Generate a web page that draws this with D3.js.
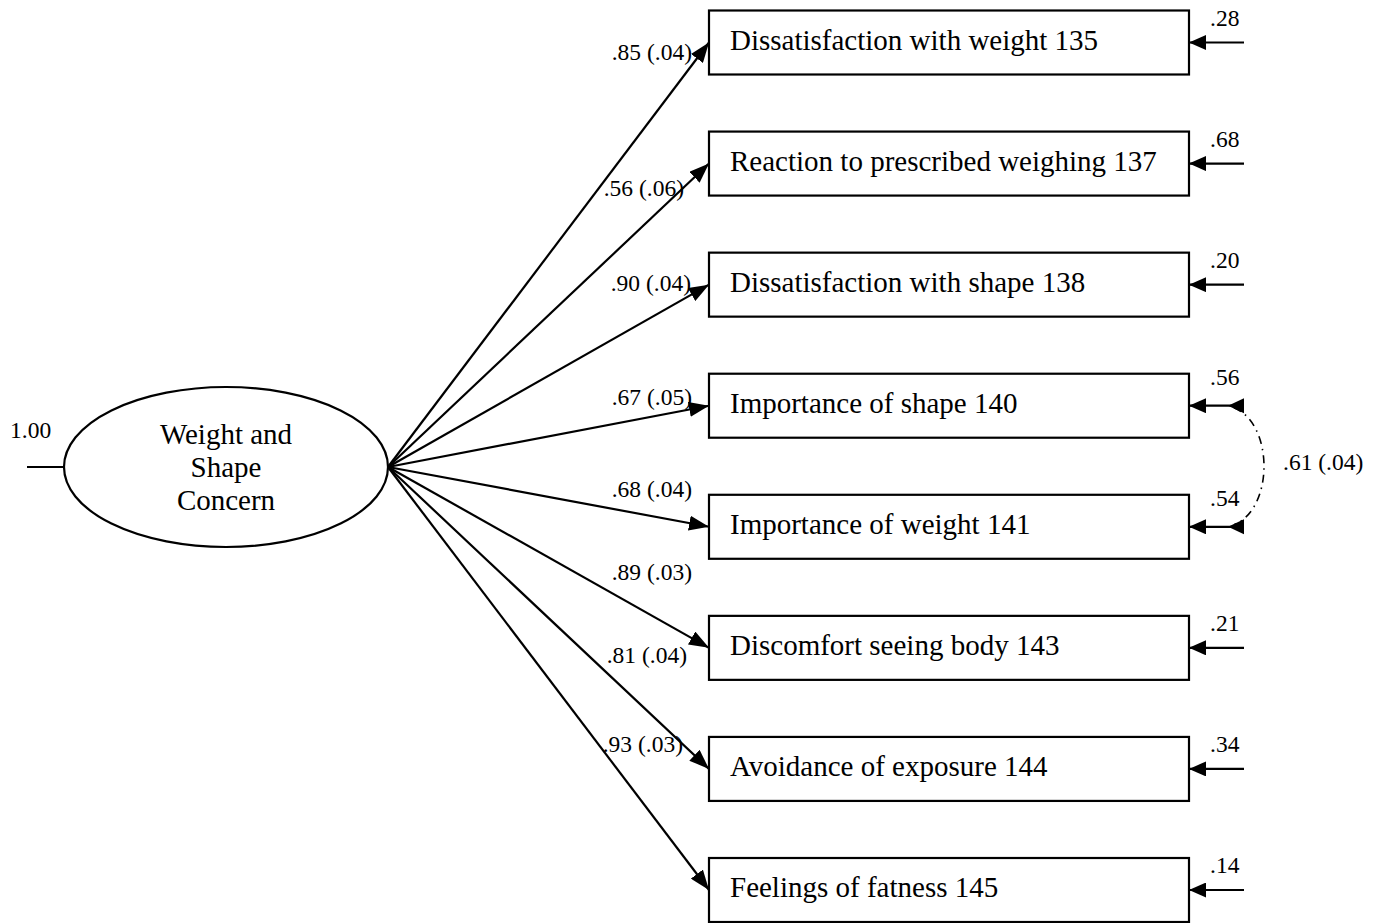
<!DOCTYPE html>
<html>
<head>
<meta charset="utf-8">
<script src="https://cdn.jsdelivr.net/npm/d3@7"></script>
<style>
  body { margin: 0; background: #fff; }
  svg text { font-family: "Liberation Serif", "Times New Roman", serif; fill: #000; }
</style>
</head>
<body>
<svg id="chart" width="1379" height="923"></svg>
<script>
// --- data ---
var factorLines = ["Weight and", "Shape", "Concern"];
var factorVariance = "1.00";
var indicators = [
    "Dissatisfaction with weight 135",
    "Reaction to prescribed weighing 137",
    "Dissatisfaction with shape 138",
    "Importance of shape 140",
    "Importance of weight 141",
    "Discomfort seeing body 143",
    "Avoidance of exposure 144",
    "Feelings of fatness 145"
];
var loadings = [".85", ".56", ".90", ".67", ".68", ".89", ".81", ".93"];
var loadingSE = [".04", ".06", ".04", ".05", ".04", ".03", ".04", ".03"];
var residuals = [".28", ".68", ".20", ".56", ".54", ".21", ".34", ".14"];
// correlated errors between two indicators
var errorCovariance = { from: 3, to: 4, value: ".61", se: ".04" };

var svg = d3.select("#chart");

var config = {
    boxLeft: 709, boxRight: 1189, boxHeight: 64,
    errLen: 55,
    ellipse: { cx: 226, cy: 467, rx: 162, ry: 80 },
    textSize: 29, labelSize: 23.5, stroke: 2.2,
    // hand placed loading labels: [right edge x, baseline dy from box centre]
    loadingLabel: [[692, 17], [684, 32], [691, 6], [692, -1], [692, -30], [692, -68], [687, -106], [683, -138]]
};

var y = d3.scalePoint()
    .domain(d3.range(indicators.length))
    .range([42.5, 890]);

// arrowhead markers
var defs = svg.append("defs");
function marker(id, len, half) {
    defs.append("marker")
        .attr("id", id)
        .attr("markerUnits", "userSpaceOnUse")
        .attr("viewBox", "0 0 " + len + " " + (half * 2))
        .attr("markerWidth", len)
        .attr("markerHeight", half * 2)
        .attr("refX", len)
        .attr("refY", half)
        .attr("orient", "auto")
        .append("path")
        .attr("d", "M0,0L" + len + "," + half + "L0," + (half * 2) + "Z")
        .attr("fill", "#000");
}
marker("head", 20, 7.5);
marker("errHead", 17, 7.5);

// factor ellipse
var e = config.ellipse;
svg.append("line")
    .attr("x1", 27).attr("x2", e.cx - e.rx)
    .attr("y1", e.cy).attr("y2", e.cy)
    .attr("stroke", "#000").attr("stroke-width", config.stroke);

svg.append("text")
    .attr("x", 10).attr("y", 438)
    .style("font-size", config.labelSize + "px")
    .text(factorVariance);

svg.append("ellipse")
    .attr("cx", e.cx).attr("cy", e.cy)
    .attr("rx", e.rx).attr("ry", e.ry)
    .attr("fill", "none").attr("stroke", "#000").attr("stroke-width", config.stroke);

svg.append("g").selectAll("text")
    .data(factorLines)
    .join("text")
    .attr("x", e.cx)
    .attr("y", function (d, i) { return 444 + i * 33; })
    .attr("text-anchor", "middle")
    .style("font-size", config.textSize + "px")
    .text(function (d) { return d; });

// loading paths
svg.append("g").selectAll("line")
    .data(indicators)
    .join("line")
    .attr("x1", e.cx + e.rx).attr("y1", e.cy)
    .attr("x2", config.boxLeft)
    .attr("y2", function (d, i) { return y(i); })
    .attr("stroke", "#000").attr("stroke-width", config.stroke)
    .attr("marker-end", "url(#head)");

svg.append("g").selectAll("text")
    .data(indicators)
    .join("text")
    .attr("x", function (d, i) { return config.loadingLabel[i][0]; })
    .attr("y", function (d, i) { return y(i) + config.loadingLabel[i][1]; })
    .attr("text-anchor", "end")
    .style("font-size", config.labelSize + "px")
    .text(function (d, i) { return loadings[i] + " (" + loadingSE[i] + ")"; });

// indicator boxes
var boxes = svg.append("g").selectAll("g")
    .data(indicators)
    .join("g")
    .attr("transform", function (d, i) { return "translate(0," + y(i) + ")"; });

boxes.append("rect")
    .attr("x", config.boxLeft)
    .attr("y", -config.boxHeight / 2)
    .attr("width", config.boxRight - config.boxLeft)
    .attr("height", config.boxHeight)
    .attr("fill", "#fff").attr("stroke", "#000").attr("stroke-width", config.stroke);

boxes.append("text")
    .attr("x", config.boxLeft + 21)
    .attr("y", 7)
    .style("font-size", config.textSize + "px")
    .text(function (d) { return d; });

// error terms
boxes.append("line")
    .attr("x1", config.boxRight + config.errLen)
    .attr("x2", config.boxRight)
    .attr("y1", 0).attr("y2", 0)
    .attr("stroke", "#000").attr("stroke-width", config.stroke)
    .attr("marker-end", "url(#errHead)");

boxes.append("text")
    .attr("x", config.boxRight + 21)
    .attr("y", function (d, i) { return (i === 3 || i === 4) ? -21 : -17; })
    .style("font-size", config.labelSize + "px")
    .text(function (d, i) { return residuals[i]; });

// error covariance (dash-dot curve)
var c = errorCovariance;
var ex = config.boxRight + config.errLen;
var y0 = y(c.from), y1 = y(c.to);
var p = d3.path();
p.moveTo(ex - 10, y0 + 2);
p.bezierCurveTo(ex + 30, y0 + 18, ex + 30, y1 - 18, ex - 10, y1 - 2);
svg.append("path")
    .attr("d", p.toString())
    .attr("fill", "none").attr("stroke", "#000").attr("stroke-width", 1.6)
    .attr("stroke-dasharray", "8,5,1.5,5");

[y0, y1].forEach(function (yy) {
    svg.append("path")
        .attr("d", "M" + (ex - 16) + "," + yy + "L" + ex + "," + (yy - 7.5) + "L" + ex + "," + (yy + 7.5) + "Z")
        .attr("fill", "#000");
});

svg.append("text")
    .attr("x", 1283).attr("y", 470)
    .style("font-size", config.labelSize + "px")
    .text(c.value + " (" + c.se + ")");
</script>
</body>
</html>
